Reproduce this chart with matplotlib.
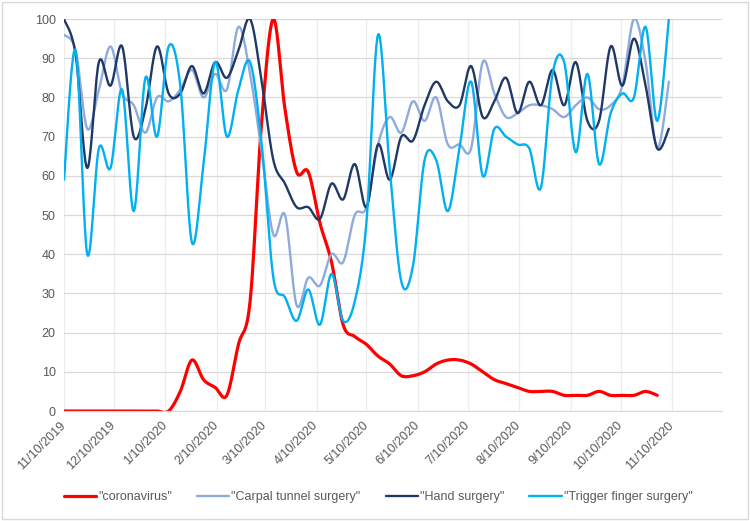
import matplotlib
matplotlib.use("Agg")
import matplotlib.pyplot as plt
import matplotlib.dates as mdates
from matplotlib.patches import Rectangle
import numpy as np
import datetime as dt

plt.rcParams['font.family'] = ['Liberation Sans', 'DejaVu Sans']

# weekly search interest, starting 11/10/2019
start = dt.date(2019, 11, 10)

coronavirus = [0, 0, 0, 0, 0, 0, 0, 0, 0, 0,
               5, 13, 8, 6, 4, 17, 28, 74, 100, 77,
               61, 61, 48, 38, 22, 19, 17, 14, 12, 9,
               9, 10, 12, 13, 13, 12, 10, 8, 7, 6,
               5, 5, 5, 4, 4, 4, 5, 4, 4, 4,
               5, 4]

carpal = [96, 92, 72, 82, 93, 81, 78, 71, 80, 79,
          82, 87, 80, 86, 82, 98, 86, 66, 45, 50,
          27, 34, 32, 40, 38, 50, 52, 68, 75, 71,
          79, 74, 80, 68, 68, 67, 89, 81, 75, 76,
          78, 78, 77, 75, 78, 80, 77, 78, 83, 100,
          89, 67, 84]

hand = [100, 91, 62, 89, 83, 93, 70, 77, 93, 81,
        81, 88, 81, 89, 85, 92, 100, 84, 64, 58,
        52, 52, 49, 58, 54, 63, 52, 68, 59, 70,
        69, 78, 84, 79, 78, 88, 75, 79, 85, 76,
        84, 78, 87, 78, 89, 74, 74, 93, 83, 95,
        83, 67, 72]

trigger = [59, 92, 40, 67, 62, 82, 51, 85, 70, 93,
           83, 43, 63, 89, 70, 82, 89, 68, 34, 29,
           23, 31, 22, 35, 23, 28, 48, 96, 62, 33,
           37, 64, 64, 51, 67, 84, 60, 72, 70, 68,
           67, 57, 86, 89, 66, 86, 63, 76, 81, 80,
           98, 74, 100]

series = [
    ('"coronavirus"', coronavirus, '#FF0000', 2.3),
    ('"Carpal tunnel surgery"', carpal, '#8FAADC', 1.7),
    ('"Hand surgery"', hand, '#1F3864', 1.7),
    ('"Trigger finger surgery"', trigger, '#00B0F0', 1.7),
]


def smooth(x, y, n=20):
    # Catmull-Rom style smoothing like Excel's smoothed line
    x = np.asarray(x, float)
    y = np.asarray(y, float)
    px = np.concatenate([[x[0]], x, [x[-1]]])
    py = np.concatenate([[y[0]], y, [y[-1]]])
    xs, ys = [], []
    t = np.linspace(0, 1, n, endpoint=False)
    for i in range(1, len(px) - 2):
        p0 = np.array([px[i], py[i]])
        p3 = np.array([px[i + 1], py[i + 1]])
        p1 = p0 + (p3 - np.array([px[i - 1], py[i - 1]])) / 6
        p2 = p3 - (np.array([px[i + 2], py[i + 2]]) - p0) / 6
        b = ((1 - t) ** 3)[:, None] * p0 + (3 * (1 - t) ** 2 * t)[:, None] * p1 \
            + (3 * (1 - t) * t ** 2)[:, None] * p2 + (t ** 3)[:, None] * p3
        xs.extend(b[:, 0])
        ys.extend(b[:, 1])
    xs.append(x[-1])
    ys.append(y[-1])
    return np.array(xs), np.array(ys)


fig = plt.figure(figsize=(7.5, 5.21), dpi=100)
ax = fig.add_axes([0.0853, 0.2111, 0.8774, 0.7524])

for label, vals, color, lw in series:
    dates = [start + dt.timedelta(weeks=i) for i in range(len(vals))]
    xnum = mdates.date2num(dates)
    sx, sy = smooth(xnum, vals)
    ax.plot(sx, sy, color=color, lw=lw, label=label, solid_capstyle='round')

ax.set_ylim(0, 100)
ax.set_yticks(range(0, 101, 10))
ax.set_xlim(mdates.date2num(dt.date(2019, 11, 10)), mdates.date2num(dt.date(2020, 12, 10)))

ticks = []
y, m = 2019, 11
while (y, m) <= (2020, 11):
    ticks.append(dt.date(y, m, 10))
    m += 1
    if m > 12:
        m = 1
        y += 1
ax.set_xticks(mdates.date2num(ticks))
ax.set_xticklabels(['{}/{}/{}'.format(d.month, d.day, d.year) for d in ticks],
                   rotation=45, ha='right', va='center', rotation_mode='anchor')

ax.grid(axis='y', color='#D9D9D9', lw=0.9)
ax.grid(axis='x', color='#EDEDED', lw=0.9)
ax.set_axisbelow(True)
for s in ['top', 'right', 'left']:
    ax.spines[s].set_visible(False)
ax.spines['bottom'].set_color('#D9D9D9')
ax.tick_params(length=0, labelsize=9, colors='#595959')
ax.tick_params(axis='x', pad=9)
ax.tick_params(axis='y', pad=6)

leg = fig.legend(loc='center', bbox_to_anchor=(0.504, 0.046), ncol=4, frameon=False,
                 fontsize=9, handlelength=2.6, columnspacing=2.0, handletextpad=0.15)
for t in leg.get_texts():
    t.set_color('#595959')

fig.patches.append(Rectangle((0.002, 0.003), 0.995, 0.994, transform=fig.transFigure,
                             fill=False, edgecolor='#D9D9D9', lw=1))

fig.savefig('out.png', dpi=100)
